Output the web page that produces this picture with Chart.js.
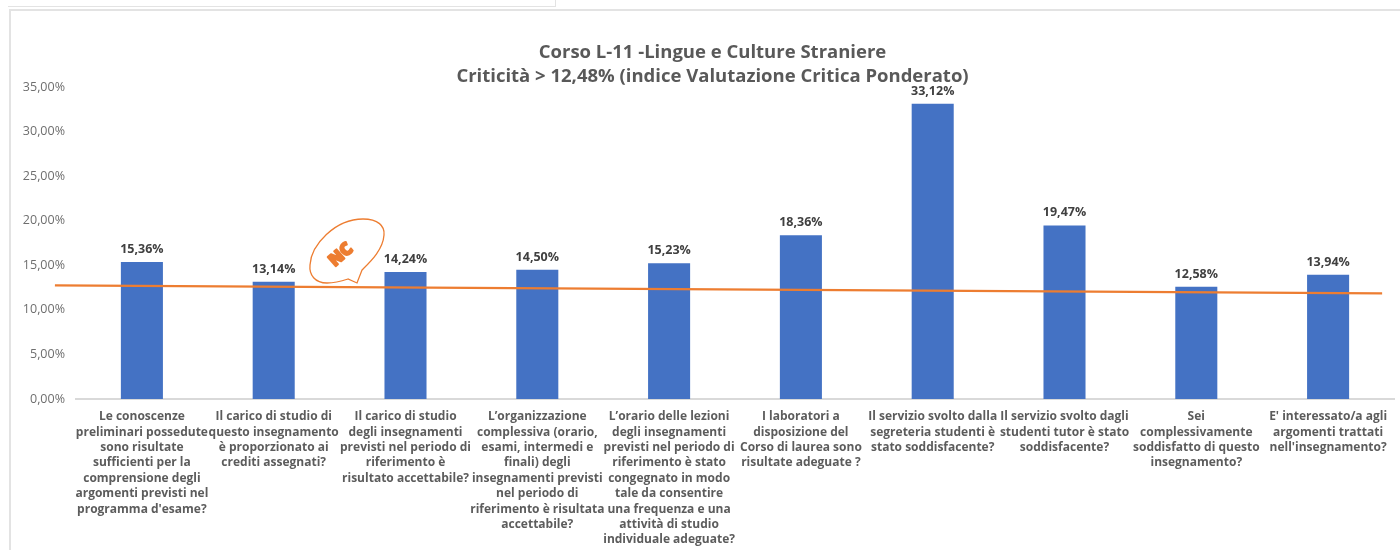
<!DOCTYPE html>
<html><head><meta charset="utf-8">
<style>
html,body{margin:0;padding:0;background:#fff;overflow:hidden}
#w{position:relative;width:1400px;height:550px}
canvas{position:absolute;left:0;top:0}
.f{position:absolute;background:#e3e3e3}
</style></head><body>
<div id="w">
<div class="f" style="left:8px;top:6px;width:548px;height:1px"></div>
<div class="f" style="left:555px;top:0;width:1px;height:7px"></div>
<div class="f" style="left:9px;top:9px;width:1391px;height:2px"></div>
<div class="f" style="left:9px;top:9px;width:2px;height:541px"></div>
<canvas id="c" width="1400" height="550"></canvas>
</div>
<script src="https://cdn.jsdelivr.net/npm/chart.js@4"></script>
<script>
const titleLines = ["Corso L-11 -Lingue e Culture Straniere","Criticità > 12,48% (indice Valutazione Critica Ponderato)"];
const categories = [
 ["Le conoscenze","preliminari possedute","sono risultate","sufficienti per la","comprensione degli","argomenti previsti nel","programma d'esame?"],
 ["Il carico di studio di","questo insegnamento","è proporzionato ai","crediti assegnati?"],
 ["Il carico di studio","degli insegnamenti","previsti nel periodo di","riferimento è","risultato accettabile?"],
 ["L’organizzazione","complessiva (orario,","esami, intermedi e","finali) degli","insegnamenti previsti","nel periodo di","riferimento è risultata","accettabile?"],
 ["L’orario delle lezioni","degli insegnamenti","previsti nel periodo di","riferimento è stato","congegnato in modo","tale da consentire","una frequenza e una","attività di studio","individuale adeguate?"],
 ["I laboratori a","disposizione del","Corso di laurea sono","risultate adeguate ?"],
 ["Il servizio svolto dalla","segreteria studenti è","stato soddisfacente?"],
 ["Il servizio svolto dagli","studenti tutor è stato","soddisfacente?"],
 ["Sei","complessivamente","soddisfatto di questo","insegnamento?"],
 ["E' interessato/a agli","argomenti trattati","nell'insegnamento?"]
];
const values = [15.36,13.14,14.24,14.50,15.23,18.36,33.12,19.47,12.58,13.94];
const trendX = [-0.16,9.91];
const trendY = [12.75,11.85];
const fmt = v => v.toFixed(2).replace('.',',') + '%';
const FONT = '"Open Sans", sans-serif';

const titleShift = {
  id:'titleShift',
  afterLayout(ch){ ch.titleBlock.left += 21; }
};
const valueLabels = {
  id:'valueLabels',
  afterDatasetsDraw(ch){
    const m = ch.getDatasetMeta(1), c = ch.ctx;
    c.save();
    c.font = '700 12.5px '+FONT; c.fillStyle='#404040';
    c.textAlign='center'; c.textBaseline='alphabetic';
    m.data.forEach((b,i)=>c.fillText(fmt(values[i]),b.x,b.y-9));
    c.restore();
  }
};
const bubble = {
  id:'bubble',
  afterDatasetsDraw(ch){
    const c = ch.ctx;
    c.save();
    c.strokeStyle='#ed7d31'; c.lineWidth=1.3;
    c.beginPath();
    c.moveTo(348,279);
    c.bezierCurveTo(342,281,335,283,327,283);
    c.bezierCurveTo(315,283,309,275,310,265);
    c.bezierCurveTo(311,245,335,219,363,219);
    c.bezierCurveTo(378,219,385,226,384,235);
    c.bezierCurveTo(383,250,370,262,362,270);
    c.lineTo(357,283);
    c.closePath();
    c.stroke();
    c.translate(341,255); c.rotate(-0.72);
    c.font='800 17px '+FONT; c.fillStyle='#ed7d31';
    c.strokeStyle='#ed7d31'; c.lineWidth=2; c.lineJoin='round';
    c.textAlign='center'; c.textBaseline='middle';
    c.strokeText('NC',0,0);
    c.fillText('NC',0,0);
    c.restore();
  }
};

new Chart(document.getElementById('c'),{
  data:{
    labels:categories,
    datasets:[
      {type:'line',data:trendX.map((x,i)=>({x,y:trendY[i]})),xAxisID:'t',yAxisID:'y',
       borderColor:'#ed7d31',borderWidth:2.2,pointRadius:0,clip:false,order:0,tension:0},
      {type:'bar',data:values,xAxisID:'x',yAxisID:'y',backgroundColor:'#4472c4',
       grouped:false,borderWidth:0,categoryPercentage:1,barPercentage:0.319,order:1}
    ]
  },
  options:{
    responsive:false,animation:false,
    layout:{padding:{left:10,right:6,top:0,bottom:0}},
    plugins:{
      legend:{display:false},tooltip:{enabled:false},
      title:{display:true,text:titleLines,color:'#595959',
        font:{family:FONT,size:18.5,weight:'700',lineHeight:'24px'},
        padding:{top:41,bottom:-2}}
    },
    scales:{
      x:{type:'category',offset:true,
        grid:{display:false},
        border:{display:true,color:'#d9d9d9',width:2},
        afterFit(s){s.height=151},
        ticks:{autoSkip:false,maxRotation:0,minRotation:0,padding:2,color:'#5c5c5c',
          font:{family:FONT,size:12,weight:'700',lineHeight:'15.4px'}}},
      t:{type:'linear',display:false,min:0,max:10,position:'bottom'},
      y:{min:0,max:35,grid:{display:false},border:{display:false},
        afterFit(s){s.width=66},
        ticks:{stepSize:5,padding:3,color:'#6e6e6e',callback:v=>fmt(v),
          font:{family:FONT,size:12.5}}}
    }
  },
  plugins:[titleShift,valueLabels,bubble]
});
</script>
</body></html>
